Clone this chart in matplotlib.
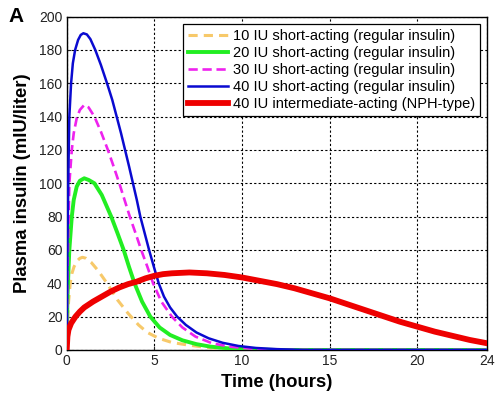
import matplotlib
matplotlib.use("Agg")
import matplotlib.pyplot as plt

plt.rcParams['font.family'] = ['Liberation Sans', 'DejaVu Sans']

# values (hours, mIU/liter)
t_10 = [0, 0.04, 0.1, 0.2, 0.3, 0.42, 0.6, 0.75, 0.9, 1.1, 1.4, 1.8, 2.3, 2.9, 3.5, 4.1, 4.6, 5.25, 6.0, 6.9, 8.0, 9.0, 10, 12, 24]
v_10 = [0, 15, 28, 40, 46, 50, 53.5, 55, 55.6, 55, 52.5, 47.5, 40, 30, 22, 15, 10.5, 7, 4.5, 3, 1.5, 0.7, 0.3, 0, 0]

t_20 = [0, 0.04, 0.1, 0.15, 0.29, 0.4, 0.57, 0.75, 1.0, 1.25, 1.58, 2.0, 2.54, 2.9, 3.25, 3.55, 3.87, 4.3, 4.77, 5.3, 5.9, 6.6, 7.4, 8.2, 9.2, 10.5, 12, 24]
v_20 = [0, 30, 48, 60, 80, 90, 98, 101.5, 103, 102, 100, 93, 80, 70, 60, 50, 40, 29, 20, 13.5, 9, 5.8, 3.5, 2, 1, 0.3, 0, 0]

t_30 = [0, 0.04, 0.1, 0.15, 0.29, 0.4, 0.57, 0.75, 1.0, 1.25, 1.58, 1.95, 2.35, 2.68, 3.0, 3.3, 3.6, 3.93, 4.25, 4.6, 4.93, 5.4, 6.0, 6.6, 7.35, 8.3, 9.3, 10.5, 12, 24]
v_30 = [0, 45, 75, 100, 120, 130, 139, 144, 147, 145.5, 140, 131, 120, 110, 100, 90, 80, 70, 60, 50, 40, 29, 20, 13.5, 8, 4, 2, 0.8, 0, 0]

t_40 = [0, 0.04, 0.1, 0.15, 0.25, 0.35, 0.48, 0.65, 0.8, 0.95, 1.15, 1.35, 1.63, 1.95, 2.3, 2.6, 2.85, 3.1, 3.33, 3.56, 3.78, 4.0, 4.2, 4.45, 4.7, 4.97, 5.25, 5.55, 5.9, 6.3, 6.8, 7.4, 8.1, 8.9, 9.8, 10.8, 12, 13.5, 24]
v_40 = [0, 60, 110, 140, 160, 172, 180, 186, 189, 190, 189.3, 186.5, 180, 171, 160, 150, 140, 130, 120, 110, 100, 90, 80, 70, 60, 50, 40, 32, 25.5, 20, 15, 10.5, 7, 4.3, 2.4, 1.2, 0.5, 0, 0]

t_nph = [0, 0.04, 0.1, 0.25, 0.5, 0.75, 1, 1.5, 2, 2.5, 3, 3.5, 4, 4.5, 5, 5.5, 6, 7, 8, 9, 10, 11, 12, 13, 14, 15, 16, 17, 18, 19, 20, 21, 22, 23, 24]
v_nph = [0, 8, 12, 16, 20, 23, 25.5, 29, 32, 35, 37.5, 39.5, 41, 43, 44.5, 45.5, 46, 46.5, 46, 45, 43.5, 41.5, 39.5, 37, 34, 31, 27.5, 24, 20.5, 17, 14, 11, 8.5, 6, 4]

labels = ['10 IU short-acting (regular insulin)',
          '20 IU short-acting (regular insulin)',
          '30 IU short-acting (regular insulin)',
          '40 IU short-acting (regular insulin)',
          '40 IU intermediate-acting (NPH-type)']
x_ticks = [0, 5, 10, 15, 20, 24]
y_ticks = [0, 20, 40, 60, 80, 100, 120, 140, 160, 180, 200]

fig = plt.figure(figsize=(4.96, 3.95), dpi=100)
ax = fig.add_axes([0.1345, 0.114, 0.848, 0.844])

ax.plot(t_10, v_10, color='#f7c96a', lw=2.2, ls=(0, (3, 2)), label=labels[0], zorder=3)
ax.plot(t_20, v_20, color='#22ee22', lw=2.8, label=labels[1], zorder=3)
ax.plot(t_30, v_30, color='#ee22ee', lw=1.9, ls=(0, (3.5, 1.8)), label=labels[2], zorder=3)
ax.plot(t_40, v_40, color='#0a0ad0', lw=1.8, label=labels[3], zorder=4)
ax.plot(t_nph, v_nph, color='#ee0000', lw=4.2, label=labels[4], zorder=5)

ax.set_xlim(0, 24)
ax.set_ylim(0, 200)
ax.set_xticks(x_ticks)
ax.set_yticks(y_ticks)
ax.tick_params(direction='in', length=3, labelsize=10, colors='#222222', pad=3)
ax.grid(True, color='black', ls=(0, (2, 2)), lw=0.8)
for s in ax.spines.values():
    s.set_linewidth(1.0)

ax.set_xlabel('Time (hours)', fontsize=13.3, fontweight='bold', labelpad=4)
ax.set_ylabel('Plasma insulin (mIU/liter)', fontsize=13.3, fontweight='bold', labelpad=6)
fig.text(0.018, 0.945, 'A', fontsize=15, fontweight='bold')

leg = ax.legend(loc='upper right', bbox_to_anchor=(0.983, 0.977), fontsize=10.5,
                fancybox=False, framealpha=1, edgecolor='black', handlelength=2.75,
                labelspacing=0.2, borderpad=0.35, handletextpad=0.35, borderaxespad=0)
leg.get_frame().set_linewidth(0.9)

fig.savefig('out.png', dpi=100)
